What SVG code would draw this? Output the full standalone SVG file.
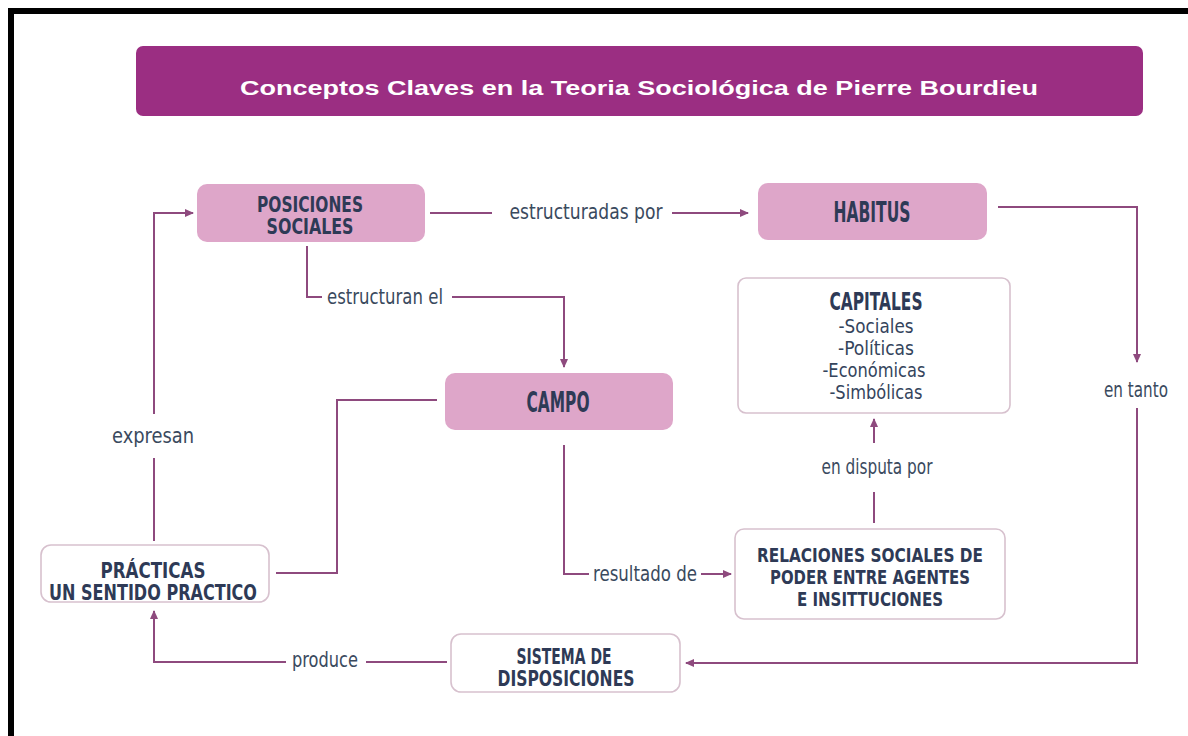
<svg xmlns="http://www.w3.org/2000/svg" width="1188" height="736" viewBox="0 0 1188 736">
<defs>
<marker id="arr" markerUnits="userSpaceOnUse" markerWidth="9" markerHeight="8" refX="8" refY="4" orient="auto">
<path d="M0,0 L9,4 L0,8 z" fill="#8E4A7E"/>
</marker>
<style>
.pink{fill:#DEA6C9;}
.white{fill:#FFFFFF;stroke:#D7C1CE;stroke-width:1.6;}
.nt{font-family:"DejaVu Sans Condensed","DejaVu Sans",sans-serif;font-weight:bold;fill:#2E3A56;text-anchor:middle;}
.lt{font-family:"DejaVu Sans Condensed","DejaVu Sans",sans-serif;fill:#3A4A5E;text-anchor:middle;font-size:21px;}
.ct{font-family:"DejaVu Sans Condensed","DejaVu Sans",sans-serif;fill:#34445C;text-anchor:middle;font-size:20px;}
.cn{fill:none;stroke:#8E4A7E;stroke-width:2;}
</style>
</defs>
<rect x="0" y="0" width="1188" height="736" fill="#FFFFFF"/>
<path d="M8,736 V8 H1188 V14 H14 V736 z" fill="#000000"/>

<g id="title">
<rect x="136" y="46" width="1007" height="70" rx="7" fill="#9B2E82"/>
<text x="639" y="95" font-family="'Liberation Sans',Arial,sans-serif" font-weight="bold" font-size="20" fill="#FFFFFF" text-anchor="middle" textLength="798" lengthAdjust="spacingAndGlyphs">Conceptos Claves en la Teoria Sociológica de Pierre Bourdieu</text>
</g>

<g id="connectors">
<line class="cn" x1="430" y1="213" x2="492" y2="213"/>
<line class="cn" x1="672" y1="213" x2="748" y2="213" marker-end="url(#arr)"/>
<path class="cn" d="M307,246 V297 H322"/>
<path class="cn" d="M452,297 H564 V367" marker-end="url(#arr)"/>
<path class="cn" d="M564,445 V574 H589"/>
<line class="cn" x1="701" y1="574" x2="731" y2="574" marker-end="url(#arr)"/>
<line class="cn" x1="874" y1="523" x2="874" y2="492"/>
<line class="cn" x1="874" y1="443" x2="874" y2="419" marker-end="url(#arr)"/>
<path class="cn" d="M998,207 H1137 V362" marker-end="url(#arr)"/>
<path class="cn" d="M1137,408 V663 H686" marker-end="url(#arr)"/>
<line class="cn" x1="447" y1="662" x2="366" y2="662"/>
<path class="cn" d="M286,662 H154 V611" marker-end="url(#arr)"/>
<line class="cn" x1="154" y1="541" x2="154" y2="458"/>
<path class="cn" d="M154,414 V213 H193" marker-end="url(#arr)"/>
<path class="cn" d="M437,400 H337 V573 H276"/>
<text class="lt" x="586" y="219" textLength="153" lengthAdjust="spacingAndGlyphs">estructuradas por</text>
<text class="lt" x="385" y="304" textLength="116" lengthAdjust="spacingAndGlyphs">estructuran el</text>
<text class="lt" x="645" y="581" textLength="104" lengthAdjust="spacingAndGlyphs">resultado de</text>
<text class="lt" x="877" y="474" textLength="111" lengthAdjust="spacingAndGlyphs">en disputa por</text>
<text class="lt" x="1136" y="397" textLength="64" lengthAdjust="spacingAndGlyphs">en tanto</text>
<text class="lt" x="153" y="443" textLength="82" lengthAdjust="spacingAndGlyphs">expresan</text>
<text class="lt" x="325" y="667" textLength="66" lengthAdjust="spacingAndGlyphs">produce</text>
</g>

<g id="posiciones">
<rect class="pink" x="197" y="184" width="228" height="58" rx="10"/>
<text class="nt" font-size="21" x="310" y="212" textLength="106" lengthAdjust="spacingAndGlyphs">POSICIONES</text>
<text class="nt" font-size="21" x="310" y="234" textLength="87" lengthAdjust="spacingAndGlyphs">SOCIALES</text>
</g>

<g id="habitus">
<rect class="pink" x="758" y="183" width="229" height="57" rx="10"/>
<text class="nt" font-size="29" x="872" y="222" textLength="77" lengthAdjust="spacingAndGlyphs">HABITUS</text>
</g>

<g id="campo">
<rect class="pink" x="445" y="373" width="228" height="57" rx="10"/>
<text class="nt" font-size="29" x="558" y="412" textLength="63" lengthAdjust="spacingAndGlyphs">CAMPO</text>
</g>

<g id="capitales">
<rect class="white" x="738" y="278" width="272" height="135" rx="8"/>
<text class="nt" font-size="24" x="876" y="310" textLength="93" lengthAdjust="spacingAndGlyphs">CAPITALES</text>
<text class="ct" x="876" y="333" textLength="75" lengthAdjust="spacingAndGlyphs">-Sociales</text>
<text class="ct" x="876" y="355" textLength="76" lengthAdjust="spacingAndGlyphs">-Políticas</text>
<text class="ct" x="874" y="377" textLength="103" lengthAdjust="spacingAndGlyphs">-Económicas</text>
<text class="ct" x="876" y="399" textLength="93" lengthAdjust="spacingAndGlyphs">-Simbólicas</text>
</g>

<g id="relaciones">
<rect class="white" x="735" y="529" width="270" height="90" rx="9"/>
<text class="nt" font-size="20" x="870" y="562" textLength="226" lengthAdjust="spacingAndGlyphs">RELACIONES SOCIALES DE</text>
<text class="nt" font-size="20" x="870" y="584" textLength="200" lengthAdjust="spacingAndGlyphs">PODER ENTRE AGENTES</text>
<text class="nt" font-size="20" x="870" y="606" textLength="146" lengthAdjust="spacingAndGlyphs">E INSITTUCIONES</text>
</g>

<g id="practicas">
<rect class="white" x="41" y="545" width="228" height="57" rx="10"/>
<text class="nt" font-size="21" x="153" y="578" textLength="105" lengthAdjust="spacingAndGlyphs">PRÁCTICAS</text>
<text class="nt" font-size="21" x="153" y="600" textLength="208" lengthAdjust="spacingAndGlyphs">UN SENTIDO PRACTICO</text>
</g>

<g id="sistema">
<rect class="white" x="451" y="634" width="229" height="58" rx="10"/>
<text class="nt" font-size="21" x="564" y="664" textLength="95" lengthAdjust="spacingAndGlyphs">SISTEMA DE</text>
<text class="nt" font-size="21" x="566" y="686" textLength="137" lengthAdjust="spacingAndGlyphs">DISPOSICIONES</text>
</g>
</svg>
